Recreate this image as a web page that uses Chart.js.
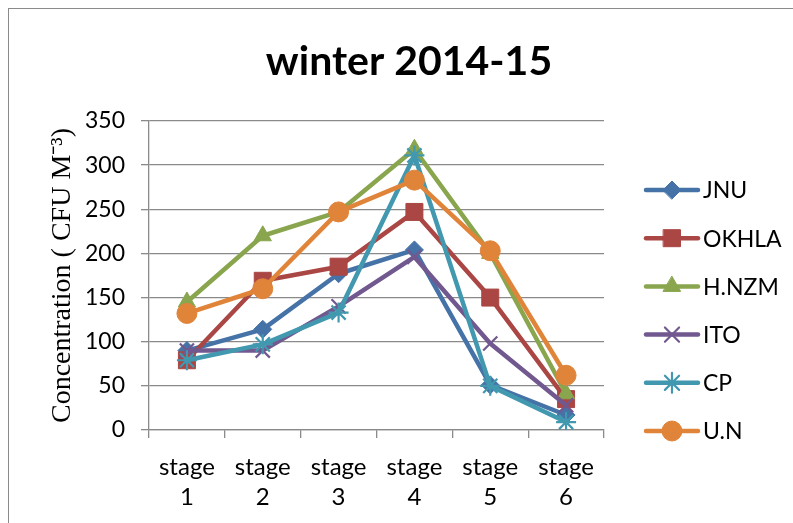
<!DOCTYPE html>
<html><head><meta charset="utf-8">
<script src="https://cdn.jsdelivr.net/npm/chart.js@4"></script>
<style>
html,body{margin:0;padding:0;background:#fff;overflow:hidden}
#wrap{position:relative;width:793px;height:523px;background:#fff}
#frame{position:absolute;left:8px;top:8px;width:800px;height:530px;border:1.5px solid #8a8a8a;box-sizing:border-box;pointer-events:none}
canvas{position:absolute;left:0;top:0}
</style></head>
<body><div id="wrap"><canvas id="c" width="793" height="523"></canvas><div id="frame"></div></div>
<script>
const categories = [['stage','1'],['stage','2'],['stage','3'],['stage','4'],['stage','5'],['stage','6']];
const seriesNames = ['JNU','OKHLA','H.NZM','ITO','CP','U.N'];
const jnu   = [90, 114, 177, 204, 51, 17];
const okhla = [79, 169, 185, 247, 150, 35];
const hnzm  = [145, 220, 247, 318, 200, 41];
const ito   = [90, 90, 140, 196, 98, 28];
const cp    = [79, 97, 133, 311, 50, 9];
const un    = [132, 160, 247, 283, 203, 62];
const yMin = 0, yMax = 350, yStep = 50;
const titleText = 'winter 2014-15';
const yTitle = 'Concentration ( CFU M\u207B\u00B3)';

const seriesValues = [jnu, okhla, hnzm, ito, cp, un];
const colors = ['#4572A7','#AA4643','#89A54E','#71588F','#4198AF','#E0843A'];
const styles = ['rectRot','rect','triangle','crossRot','star','circle'];
const radii = [9, 12, 10, 10, 10, 10];
const pbw = [1, 1, 1, 2.2, 2.2, 1];
const GRID = '#8a8a8a';

const datasets = seriesNames.map((n,i)=>({
  label:n, data:seriesValues[i],
  borderColor:colors[i], backgroundColor:colors[i],
  pointBackgroundColor:colors[i], pointBorderColor:colors[i],
  pointStyle:styles[i], pointRadius:radii[i], pointBorderWidth:pbw[i],
  borderWidth:4.5, tension:0, borderJoinStyle:'round', borderCapStyle:'round',
  order: seriesNames.length - i
}));

const deco = {
  id:'deco',
  afterDraw(chart){
    const ctx = chart.ctx;
    ctx.save();
    ctx.fillStyle = '#000';
    ctx.font = 'bold 41px Lato';
    ctx.textAlign = 'center';
    ctx.textBaseline = 'middle';
    ctx.fillText(titleText, 409, 62);
    chart.data.datasets.forEach((ds,i)=>{
      const y = 190 + i*48.2;
      ctx.strokeStyle = ds.borderColor;
      ctx.lineWidth = 4.5;
      ctx.lineCap = 'round';
      ctx.beginPath(); ctx.moveTo(646,y); ctx.lineTo(698,y); ctx.stroke();
      ctx.fillStyle = ds.pointBackgroundColor;
      ctx.strokeStyle = ds.pointBorderColor;
      ctx.lineWidth = ds.pointBorderWidth;
      Chart.helpers.drawPoint(ctx,{pointStyle:ds.pointStyle,radius:ds.pointRadius,rotation:0,borderWidth:ds.pointBorderWidth},672,y);
      ctx.fillStyle = '#000';
      ctx.font = '23px Lato';
      ctx.textAlign = 'left';
      ctx.textBaseline = 'middle';
      ctx.fillText(ds.label, 703, y+1);
    });
    ctx.restore();
  }
};

new Chart(document.getElementById('c'),{
  type:'line',
  data:{labels:categories, datasets},
  plugins:[deco],
  options:{
    responsive:false, animation:false,
    layout:{padding:{left:40,right:189,top:121,bottom:0}},
    plugins:{legend:{display:false},title:{display:false},tooltip:{enabled:false}},
    scales:{
      x:{
        offset:true,
        grid:{offset:true,drawOnChartArea:false,drawTicks:true,tickLength:8,color:GRID,lineWidth:1.3},
        border:{color:GRID,width:1.3},
        ticks:{font:{family:'Lato',size:24,lineHeight:1.25},color:'#000',padding:14,maxRotation:0,autoSkip:false},
        afterFit:s=>{s.height=93;}
      },
      y:{
        min:yMin,max:yMax,
        ticks:{stepSize:yStep,font:{family:'Lato',size:23},color:'#000',padding:16},
        grid:{color:GRID,lineWidth:1.3,tickLength:8},
        border:{color:GRID,width:1.3},
        title:{display:true,text:yTitle,font:{family:'Liberation Serif',size:28},color:'#000',padding:{top:6,bottom:0}},
        afterFit:s=>{s.width=109;}
      }
    }
  }
});
</script>
</body></html>
